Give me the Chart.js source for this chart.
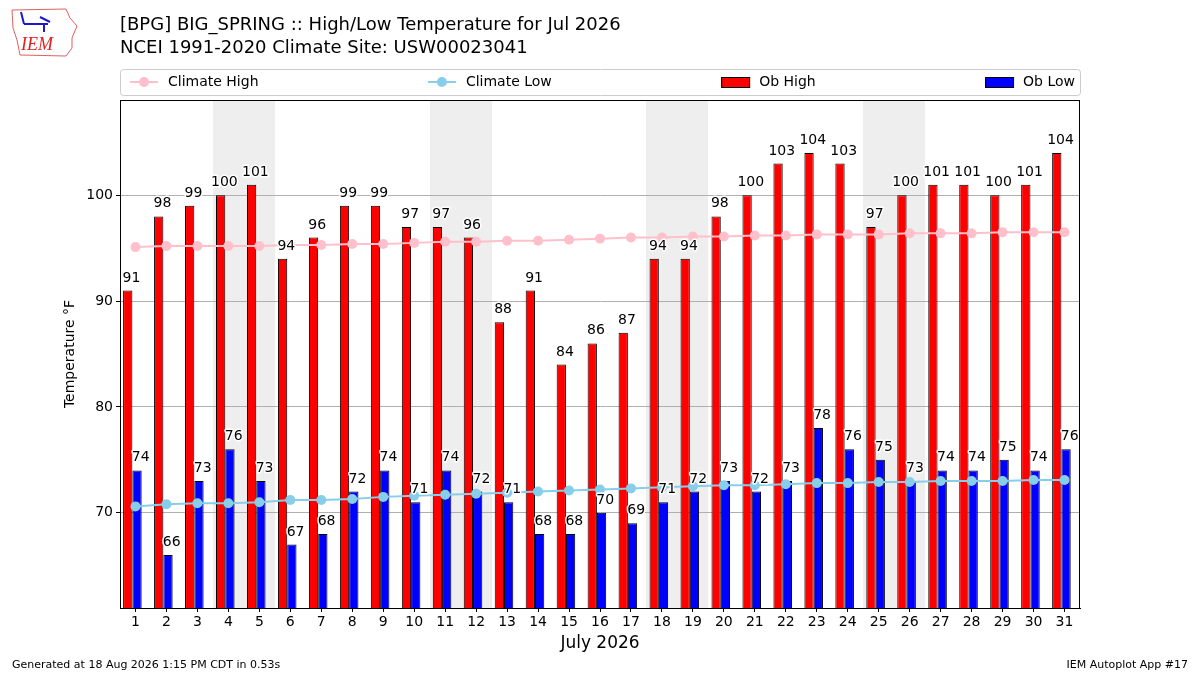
<!DOCTYPE html>
<html>
<head>
<meta charset="utf-8">
<script src="https://cdn.jsdelivr.net/npm/chart.js@4.4.1/dist/chart.umd.min.js"></script>
<style>
  html, body { margin: 0; padding: 0; background: #fff; }
  #wrap { width: 1200px; height: 675px; }
</style>
</head>
<body>
<div id="wrap"><canvas id="myChart" width="1200" height="675"></canvas></div>
<script>
// Chart data
var dayLabels = ["1","2","3","4","5","6","7","8","9","10","11","12","13","14","15","16",
	"17","18","19","20","21","22","23","24","25","26","27","28","29","30","31"];
var obHigh = [91,98,99,100,101,94,96,99,99,97,97,96,88,91,84,86,87,94,94,98,100,103,104,103,97,100,101,101,100,101,104];
var obLow = [74,66,73,76,73,67,68,72,74,71,74,72,71,68,68,70,69,71,72,73,72,73,78,76,75,73,74,74,75,74,76];
var climateHigh = [95.1,95.2,95.2,95.2,95.2,95.3,95.3,95.4,95.4,95.5,95.6,95.6,95.7,95.7,95.8,95.9,
	96.0,96.0,96.1,96.1,96.2,96.2,96.3,96.3,96.3,96.4,96.4,96.4,96.5,96.5,96.5];
var climateLow = [70.6,70.8,70.9,70.9,71.0,71.2,71.2,71.3,71.5,71.6,71.7,71.8,71.9,72.0,72.1,72.2,
	72.3,72.4,72.5,72.6,72.6,72.7,72.8,72.8,72.9,72.9,73.0,73.0,73.0,73.1,73.1];
var weekendDays = ["4","5","11","12","18","19","25","26"];
var yTicks = [70, 80, 90, 100];

var FONT = "DejaVu Sans";

function dayWidth(chart) {
	var x = chart.scales.x;
	return x.getPixelForValue(1) - x.getPixelForValue(0);
}

// Grey columns behind weekends, plus white page
var backgroundPlugin = {
	id: "background",
	beforeDraw: function(chart) {
		var ctx = chart.ctx;
		var area = chart.chartArea;
		var x = chart.scales.x;
		var half = dayWidth(chart) / 2;
		ctx.save();
		ctx.fillStyle = "#ffffff";
		ctx.fillRect(0, 0, chart.width, chart.height);
		ctx.fillStyle = "#eeeeee";
		weekendDays.forEach(function(d) {
			var px = x.getPixelForValue(dayLabels.indexOf(d));
			var x0 = Math.round(px - half), x1 = Math.round(px + half);
			ctx.fillRect(x0, area.top, x1 - x0, area.bottom - area.top);
		});
		ctx.restore();
	}
};

// bars sit a little left of each day tick, like the original plot
var barShiftPlugin = {
	id: "barShift",
	afterDatasetsUpdate: function(chart) {
		var shift = 0.1 * dayWidth(chart);
		chart.data.datasets.forEach(function(ds, di) {
			if (ds.type !== "bar") return;
			chart.getDatasetMeta(di).data.forEach(function(bar) {
				bar.x -= shift;
			});
		});
	}
};

// Number labels above each bar
var barLabelPlugin = {
	id: "barLabels",
	afterDatasetsDraw: function(chart) {
		var ctx = chart.ctx;
		var off = 0.12 * dayWidth(chart);
		ctx.save();
		ctx.font = "14px '" + FONT + "'";
		ctx.textAlign = "center";
		ctx.textBaseline = "alphabetic";
		ctx.lineJoin = "round";
		chart.data.datasets.forEach(function(ds, di) {
			if (ds.type !== "bar") return;
			var meta = chart.getDatasetMeta(di);
			meta.data.forEach(function(bar, i) {
				var txt = String(ds.data[i]);
				var tx = bar.x + off, ty = bar.y - 9;
				ctx.strokeStyle = "#ffffff";
				ctx.lineWidth = 3;
				ctx.strokeText(txt, tx, ty);
				ctx.fillStyle = "#000";
				ctx.fillText(txt, tx, ty);
			});
		});
		ctx.restore();
	}
};

// Frame, titles, legend box, footer and logo
var decorPlugin = {
	id: "decor",
	afterDraw: function(chart) {
		var ctx = chart.ctx;
		var area = chart.chartArea;
		ctx.save();

		// plot frame
		ctx.strokeStyle = "#000";
		ctx.lineWidth = 1;
		ctx.strokeRect(area.left + 0.5, area.top + 0.5, area.right - area.left - 1, area.bottom - area.top);

		// titles
		ctx.fillStyle = "#000";
		ctx.textAlign = "left";
		ctx.textBaseline = "middle";
		ctx.font = "18px '" + FONT + "'";
		ctx.fillText("[BPG] BIG_SPRING :: High/Low Temperature for Jul 2026", 120, 25);
		ctx.fillText("NCEI 1991-2020 Climate Site: USW00023041", 120, 48);

		// legend
		var lx = 120, ly = 69, lw = 960, lh = 26;
		ctx.beginPath();
		ctx.roundRect(lx + 0.5, ly + 0.5, lw, lh, 3);
		ctx.fillStyle = "rgba(255,255,255,0.8)";
		ctx.fill();
		ctx.strokeStyle = "#cccccc";
		ctx.stroke();
		ctx.font = "14px '" + FONT + "'";
		var items = chart.data.datasets.slice();
		items.sort(function(a, b) { return a.legendPos - b.legendPos; });
		var handle = 28, gap = 10;
		var widths = items.map(function(ds) { return handle + gap + ctx.measureText(ds.label).width; });
		var total = widths.reduce(function(a, b) { return a + b; }, 0);
		var inner0 = 130, inner1 = 1075;
		var space = (inner1 - inner0 - total) / (items.length - 1);
		var cx = inner0, cy = ly + lh / 2;
		items.forEach(function(ds, k) {
			if (ds.type === "line") {
				ctx.strokeStyle = ds.borderColor;
				ctx.lineWidth = 2;
				ctx.beginPath();
				ctx.moveTo(cx, cy);
				ctx.lineTo(cx + handle, cy);
				ctx.stroke();
				ctx.fillStyle = ds.borderColor;
				ctx.beginPath();
				ctx.arc(cx + handle / 2, cy, 5, 0, Math.PI * 2);
				ctx.fill();
			} else {
				ctx.fillStyle = ds.backgroundColor;
				ctx.fillRect(cx, cy - 5, handle, 10);
				ctx.strokeStyle = "#000";
				ctx.lineWidth = 1;
				ctx.strokeRect(cx + 0.5, cy - 4.5, handle, 10);
			}
			ctx.fillStyle = "#000";
			ctx.textBaseline = "middle";
			ctx.fillText(ds.label, cx + handle + gap, cy);
			cx += widths[k] + space;
		});

		// footer
		ctx.font = "11px '" + FONT + "'";
		ctx.fillStyle = "#000";
		ctx.textAlign = "left";
		ctx.fillText("Generated at 18 Aug 2026 1:15 PM CDT in 0.53s", 12, 665);
		ctx.textAlign = "right";
		ctx.fillText("IEM Autoplot App #17", 1188, 665);

		// rough IEM logo
		ctx.strokeStyle = "#e06060";
		ctx.lineWidth = 1;
		ctx.beginPath();
		ctx.moveTo(12, 10);
		ctx.lineTo(66, 9);
		ctx.lineTo(70, 18);
		ctx.lineTo(77, 26);
		ctx.lineTo(72, 38);
		ctx.lineTo(72, 48);
		ctx.lineTo(66, 56);
		ctx.lineTo(20, 55);
		ctx.lineTo(17, 40);
		ctx.lineTo(13, 28);
		ctx.closePath();
		ctx.stroke();
		ctx.strokeStyle = "#1a1acc";
		ctx.lineWidth = 2;
		ctx.beginPath();
		ctx.moveTo(24, 24);
		ctx.lineTo(48, 24);
		ctx.moveTo(40, 17);
		ctx.lineTo(50, 22);
		ctx.moveTo(44, 24);
		ctx.lineTo(44, 32);
		ctx.moveTo(21, 12);
		ctx.lineTo(24, 24);
		ctx.stroke();
		ctx.fillStyle = "#dd2222";
		ctx.font = "italic 18px 'Liberation Serif'";
		ctx.textAlign = "left";
		ctx.fillText("IEM", 21, 45);

		ctx.restore();
	}
};

var ctx = document.getElementById("myChart");
var myChart = new Chart(ctx, {
	type: "bar",
	data: {
		labels: dayLabels,
		datasets: [
			{
				type: "line",
				label: "Climate High",
				legendPos: 0,
				data: climateHigh,
				borderColor: "#ffc0cb",
				backgroundColor: "#ffc0cb",
				borderWidth: 2,
				pointRadius: 5,
				pointBorderWidth: 0,
				pointBackgroundColor: "#ffc0cb",
				tension: 0,
				order: 0
			},
			{
				type: "line",
				label: "Climate Low",
				legendPos: 1,
				data: climateLow,
				borderColor: "#87ceeb",
				backgroundColor: "#87ceeb",
				borderWidth: 2,
				pointRadius: 5,
				pointBorderWidth: 0,
				pointBackgroundColor: "#87ceeb",
				tension: 0,
				order: 0
			},
			{
				type: "bar",
				label: "Ob High",
				legendPos: 2,
				data: obHigh,
				backgroundColor: "#ff0000",
				borderColor: "#000000",
				borderWidth: 1,
				borderSkipped: false,
				order: 1
			},
			{
				type: "bar",
				label: "Ob Low",
				legendPos: 3,
				data: obLow,
				backgroundColor: "#0000ff",
				borderColor: "#000000",
				borderWidth: 1,
				borderSkipped: false,
				order: 1
			}
		]
	},
	options: {
		responsive: false,
		animation: false,
		devicePixelRatio: 1,
		categoryPercentage: 0.6,
		barPercentage: 1.0,
		layout: { padding: { left: 0, right: 120, top: 100, bottom: 0 } },
		plugins: {
			legend: { display: false },
			tooltip: { enabled: false }
		},
		scales: {
			x: {
				offset: true,
				afterFit: function(s) { s.height = 67; },
				grid: {
					offset: false,
					drawOnChartArea: false,
					drawTicks: true,
					tickLength: 4,
					tickColor: "#000"
				},
				border: { display: true, color: "#000" },
				ticks: {
					color: "#000",
					font: { family: FONT, size: 14 },
					maxRotation: 0,
					autoSkip: false,
					padding: 2
				},
				title: {
					display: true,
					text: "July 2026",
					color: "#000",
					font: { family: FONT, size: 17 },
					padding: { top: 0, bottom: 21 }
				}
			},
			y: {
				min: 61,
				max: 109,
				afterFit: function(s) { s.width = 120; },
				afterBuildTicks: function(s) {
					s.ticks = yTicks.map(function(v) { return { value: v }; });
				},
				grid: {
					color: "#b0b0b0",
					lineWidth: 1,
					drawTicks: true,
					tickLength: 4,
					tickColor: "#000"
				},
				border: { display: true, color: "#000" },
				ticks: {
					color: "#000",
					font: { family: FONT, size: 14 },
					padding: 3
				},
				title: {
					display: true,
					text: "Temperature °F",
					color: "#000",
					font: { family: FONT, size: 14 },
					padding: { top: 62, bottom: 0 }
				}
			}
		}
	},
	plugins: [backgroundPlugin, barShiftPlugin, barLabelPlugin, decorPlugin]
});
</script>
</body>
</html>
